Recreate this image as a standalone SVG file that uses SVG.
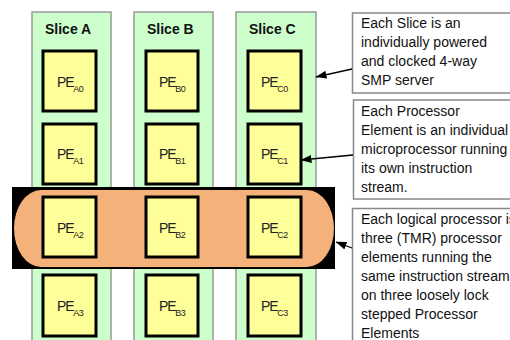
<svg xmlns="http://www.w3.org/2000/svg" width="510" height="340" viewBox="0 0 510 340">
<defs>
<marker id="ah" markerWidth="11" markerHeight="8" refX="10.5" refY="4" orient="auto" markerUnits="userSpaceOnUse">
<path d="M0,0 L11,4 L0,8 Z" fill="#000"/>
</marker>
<style>
.slice{fill:#ccffcc;stroke:#999;stroke-width:1.5}
.pe{fill:#ffff99;stroke:#000;stroke-width:3}
.sl{font-family:"Liberation Sans",Arial,sans-serif;font-weight:bold;font-size:14px;fill:#111}
.pt{font-family:"Liberation Sans",Arial,sans-serif;font-size:14px;fill:#222;letter-spacing:-1.2px}
.sub{font-size:9px;letter-spacing:-0.5px}
.box{fill:#fff;stroke:#888;stroke-width:1.5}
.ct{font-family:"Liberation Sans",Arial,sans-serif;font-size:14px;fill:#111}
.conn{stroke:#000;stroke-width:1.3;fill:none;marker-end:url(#ah)}
</style>
</defs>
<rect width="510" height="340" fill="#fff"/>
<g id="sliceA"><rect class="slice" x="32" y="12" width="79" height="340"/><text class="sl" x="45" y="34">Slice A</text></g>
<g id="sliceB"><rect class="slice" x="134" y="12" width="79" height="340"/><text class="sl" x="147" y="34">Slice B</text></g>
<g id="sliceC"><rect class="slice" x="236" y="12" width="80" height="340"/><text class="sl" x="249" y="34">Slice C</text></g>
<g id="tmr">
<rect x="12" y="187" width="323" height="82" fill="#000"/>
<rect x="14" y="190" width="320" height="77" rx="27" ry="38.5" fill="#f4b27a"/>
</g>
<g id="peA0"><rect class="pe" x="43" y="51" width="53" height="60"/><text class="pt" x="57" y="87">PE<tspan class="sub" dy="5">A0</tspan></text></g>
<g id="peA1"><rect class="pe" x="43" y="124" width="53" height="60"/><text class="pt" x="57" y="159">PE<tspan class="sub" dy="5">A1</tspan></text></g>
<g id="peA2"><rect class="pe" x="43" y="197" width="53" height="60"/><text class="pt" x="57" y="233">PE<tspan class="sub" dy="5">A2</tspan></text></g>
<g id="peA3"><rect class="pe" x="43" y="275" width="53" height="61"/><text class="pt" x="57" y="311">PE<tspan class="sub" dy="5">A3</tspan></text></g>
<g id="peB0"><rect class="pe" x="146" y="51" width="52" height="60"/><text class="pt" x="159" y="87">PE<tspan class="sub" dy="5">B0</tspan></text></g>
<g id="peB1"><rect class="pe" x="146" y="124" width="52" height="60"/><text class="pt" x="159" y="159">PE<tspan class="sub" dy="5">B1</tspan></text></g>
<g id="peB2"><rect class="pe" x="146" y="197" width="52" height="60"/><text class="pt" x="159" y="233">PE<tspan class="sub" dy="5">B2</tspan></text></g>
<g id="peB3"><rect class="pe" x="146" y="275" width="52" height="61"/><text class="pt" x="159" y="311">PE<tspan class="sub" dy="5">B3</tspan></text></g>
<g id="peC0"><rect class="pe" x="248" y="51" width="53" height="60"/><text class="pt" x="261" y="87">PE<tspan class="sub" dy="5">C0</tspan></text></g>
<g id="peC1"><rect class="pe" x="248" y="124" width="53" height="60"/><text class="pt" x="261" y="159">PE<tspan class="sub" dy="5">C1</tspan></text></g>
<g id="peC2"><rect class="pe" x="248" y="197" width="53" height="60"/><text class="pt" x="261" y="233">PE<tspan class="sub" dy="5">C2</tspan></text></g>
<g id="peC3"><rect class="pe" x="248" y="275" width="53" height="61"/><text class="pt" x="261" y="311">PE<tspan class="sub" dy="5">C3</tspan></text></g>
<g id="note1"><rect class="box" x="352.5" y="13" width="170" height="80"/>
<text class="ct" x="361" y="28">Each Slice is an</text><text class="ct" x="361" y="47">individually powered</text><text class="ct" x="361" y="66">and clocked 4-way</text><text class="ct" x="361" y="85">SMP server</text></g>
<g id="note2"><rect class="box" x="353.5" y="100" width="170" height="99"/>
<text class="ct" x="361" y="116">Each Processor</text><text class="ct" x="361" y="135">Element is an individual</text><text class="ct" x="361" y="154">microprocessor running</text><text class="ct" x="361" y="173">its own instruction</text><text class="ct" x="361" y="192">stream.</text></g>
<g id="note3"><rect class="box" x="352.5" y="208.5" width="170" height="140"/>
<text class="ct" x="361" y="224">Each logical processor is</text><text class="ct" x="361" y="243">three (TMR) processor</text><text class="ct" x="361" y="262">elements running the</text><text class="ct" x="361" y="281">same instruction stream</text><text class="ct" x="361" y="300">on three loosely lock</text><text class="ct" x="361" y="319">stepped Processor</text><text class="ct" x="361" y="338">Elements</text></g>
<g id="connectors">
<line class="conn" x1="352" y1="69" x2="316" y2="77"/>
<line class="conn" x1="353" y1="155" x2="301" y2="160"/>
<line class="conn" x1="352" y1="248" x2="336" y2="242"/>
</g>
</svg>
